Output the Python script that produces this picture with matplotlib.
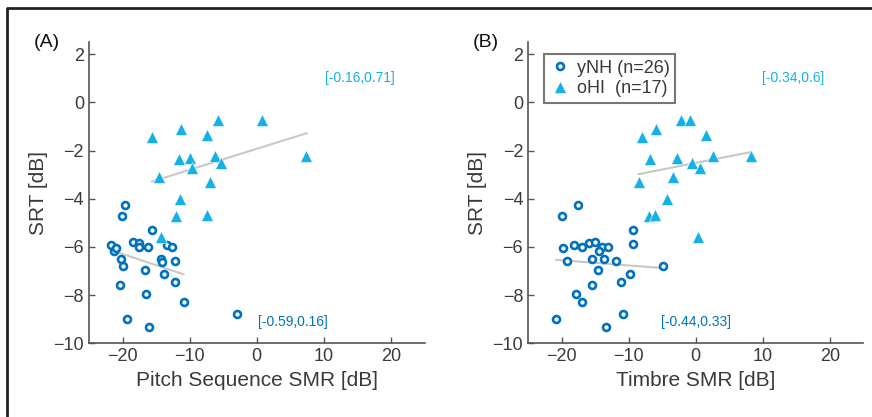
import numpy as np
import matplotlib
matplotlib.use("Agg")
import matplotlib.pyplot as plt
from matplotlib.lines import Line2D

plt.rcParams['font.family'] = ['Liberation Sans', 'DejaVu Sans']

# yNH group (circles)
ynh_pitch = [-19.7, -20.1, -15.6, -21.7, -21.3, -20.9, -18.4, -17.6, -17.6, -16.2,
             -13.4, -12.7, -20.3, -20.0, -14.2, -14.1, -12.2, -16.6, -13.8, -12.2,
             -20.4, -16.5, -10.9, -19.4, -16.0, -2.9]
ynh_pitch_srt = [-4.28, -4.73, -5.30, -5.92, -6.18, -6.04, -5.78, -5.85, -6.00, -6.00,
                 -5.91, -6.02, -6.49, -6.79, -6.49, -6.62, -6.58, -6.98, -7.12, -7.45,
                 -7.59, -7.96, -8.28, -8.98, -9.32, -8.80]
ynh_timbre = [-17.6, -19.95, -9.4, -19.85, -18.1, -17.0, -15.9, -15.0, -14.0, -13.1,
              -14.4, -9.4, -19.2, -15.5, -13.7, -11.9, -4.9, -14.6, -9.85, -11.2,
              -15.4, -17.9, -17.0, -20.8, -10.9, -13.3]
ynh_timbre_srt = [-4.28, -4.73, -5.30, -6.06, -5.93, -6.00, -5.85, -5.78, -6.00, -6.02,
                  -6.18, -5.89, -6.58, -6.51, -6.49, -6.60, -6.79, -6.98, -7.12, -7.45,
                  -7.59, -7.96, -8.28, -8.98, -8.80, -9.32]

# oHI group (triangles)
ohi_pitch = [-15.6, -11.3, -5.8, 0.75, -7.4, -11.6, -10.0, -6.2, 7.4, -5.3,
             -9.7, -14.6, -7.0, -11.5, -12.1, -7.4, -14.3]
ohi_pitch_srt = [-1.42, -1.10, -0.72, -0.72, -1.37, -2.37, -2.32, -2.23, -2.23, -2.52,
                 -2.73, -3.08, -3.31, -4.00, -4.72, -4.69, -5.59]
ohi_timbre = [-7.96, -5.87, -2.19, -0.9, 1.49, -6.77, -2.74, 2.54, 8.26, -0.6,
              0.65, -3.43, -8.5, -4.2, -7.0, -6.0, 0.3]
ohi_timbre_srt = [-1.42, -1.10, -0.72, -0.72, -1.37, -2.37, -2.32, -2.23, -2.23, -2.52,
                  -2.73, -3.08, -3.31, -4.00, -4.73, -4.69, -5.58]

# confidence intervals printed on the panels
ci_pitch = ['[-0.59,0.16]', '[-0.16,0.71]']
ci_timbre = ['[-0.44,0.33]', '[-0.34,0.6]']

xlabels = ['Pitch Sequence SMR [dB]', 'Timbre SMR [dB]']
panel_names = ['(A)', '(B)']
legend_labels = ['yNH (n=26)', 'oHI  (n=17)']
xticks = [-20, -10, 0, 10, 20]
yticks = [-10, -8, -6, -4, -2, 0, 2]

c_ynh = '#0072BD'
c_ohi = '#14B1E7'
c_fit = '#C8C8C8'
c_ax = '#555555'
c_txt = '#3a3a3a'

fig = plt.figure(figsize=(8.72, 4.17), dpi=100)
ax1 = fig.add_axes([0.102, 0.177, 0.385, 0.722])
ax2 = fig.add_axes([0.6055, 0.177, 0.3845, 0.722])

def fitline(ax, x, y, keep=None):
    x = np.array(x)
    y = np.array(y)
    if keep is not None:
        x, y = x[keep], y[keep]
    p = np.polyfit(x, y, 1)
    xs = np.array([x.min(), x.max()])
    ax.plot(xs, np.polyval(p, xs), color=c_fit, lw=1.5, zorder=1)

panels = [
    (ax1, ynh_pitch, ynh_pitch_srt, ohi_pitch, ohi_pitch_srt, ci_pitch, (5.4, 15.4)),
    (ax2, ynh_timbre, ynh_timbre_srt, ohi_timbre, ohi_timbre_srt, ci_timbre, (0.0, 14.6)),
]

for i, (ax, xa, ya, xb, yb, ci, cx) in enumerate(panels):
    h1, = ax.plot(xa, ya, 'o', ms=5, mfc='white', mec=c_ynh, mew=1.9, ls='none', zorder=3)
    h2, = ax.plot(xb, yb, '^', ms=8.5, color=c_ohi, mec='white', mew=0.4, ls='none', zorder=3)
    if i == 0:
        # the far outlier is left out of the yNH fit in panel A
        keep = np.array(xa) < -5
        fitline(ax, xa, ya, keep)
    else:
        fitline(ax, xa, ya)
    fitline(ax, xb, yb)

    ax.text(cx[0], -9.1, ci[0], color=c_ynh, fontsize=10, ha='center', va='center')
    ax.text(cx[1], 1.0, ci[1], color=c_ohi, fontsize=10, ha='center', va='center')

    ax.set_xlim(-25, 25)
    ax.set_ylim(-10, 2.5)
    ax.set_xticks(xticks)
    ax.set_yticks(yticks)
    for s in ['top', 'right']:
        ax.spines[s].set_visible(False)
    for s in ['left', 'bottom']:
        ax.spines[s].set_color(c_ax)
        ax.spines[s].set_linewidth(1.2)
    ax.tick_params(direction='in', length=4, width=1, color=c_ax,
                   labelsize=13, labelcolor=c_txt)
    ax.set_xlabel(xlabels[i], fontsize=15, color=c_txt)
    ax.set_ylabel('SRT [dB]', fontsize=15, color=c_txt)
    ax.text(-0.125, 1.0, panel_names[i], transform=ax.transAxes, fontsize=14,
            ha='center', va='center', color='#111111')

    if i == 1:
        leg = ax.legend([h1, h2], legend_labels, loc='upper left',
                        bbox_to_anchor=(0.048, 0.96), borderaxespad=0,
                        fontsize=13, frameon=True, fancybox=False,
                        handletextpad=0.3, handlelength=1.2, borderpad=0.3,
                        labelspacing=0.2)
        leg.get_frame().set_edgecolor(c_ax)
        leg.get_frame().set_linewidth(1.5)
        for t in leg.get_texts():
            t.set_color(c_txt)

# outer frame (left and top edges only are visible)
fig.add_artist(Line2D([7 / 872, 7 / 872, 1], [0, 1 - 8 / 417, 1 - 8 / 417],
                      transform=fig.transFigure, color='#222222', lw=2))

fig.savefig('out.png', dpi=100)
